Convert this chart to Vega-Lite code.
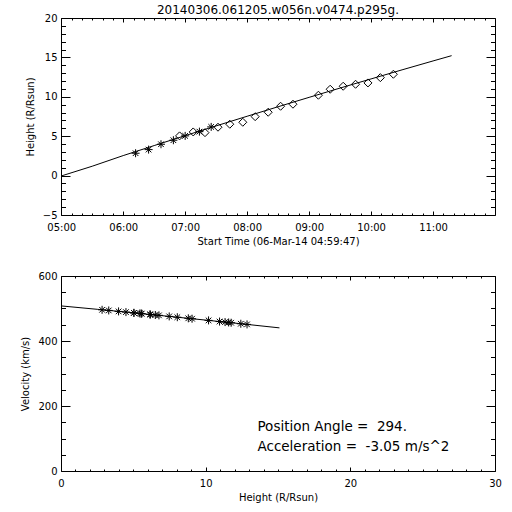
{
  "$schema": "https://vega.github.io/schema/vega-lite/v6.json",
  "background": "white",
  "padding": {"left": 20, "top": 3, "right": 0, "bottom": 0},
  "spacing": 23,
  "config": {
    "font": "DejaVu Sans",
    "view": {"stroke": "black", "strokeWidth": 1},
    "axis": {
      "domain": false,
      "grid": false,
      "ticks": true,
      "tickColor": "black",
      "tickWidth": 1,
      "labelColor": "black",
      "labelFont": "DejaVu Sans",
      "labelFontSize": 10,
      "labelFlush": false,
      "labelOverlap": false,
      "titleColor": "black",
      "titleFont": "DejaVu Sans",
      "titleFontSize": 10,
      "titleFontWeight": "normal"
    }
  },
  "datasets": {
    "hts": [
      {"time_h": 6.20, "height_rsun": 2.84, "marker": "asterisk"},
      {"time_h": 6.41, "height_rsun": 3.30, "marker": "asterisk"},
      {"time_h": 6.61, "height_rsun": 3.98, "marker": "asterisk"},
      {"time_h": 6.81, "height_rsun": 4.49, "marker": "asterisk"},
      {"time_h": 7.00, "height_rsun": 5.04, "marker": "asterisk"},
      {"time_h": 7.23, "height_rsun": 5.58, "marker": "asterisk"},
      {"time_h": 7.42, "height_rsun": 6.18, "marker": "asterisk"},
      {"time_h": 6.91, "height_rsun": 5.04, "marker": "diamond"},
      {"time_h": 7.13, "height_rsun": 5.54, "marker": "diamond"},
      {"time_h": 7.32, "height_rsun": 5.45, "marker": "diamond"},
      {"time_h": 7.53, "height_rsun": 6.14, "marker": "diamond"},
      {"time_h": 7.72, "height_rsun": 6.52, "marker": "diamond"},
      {"time_h": 7.93, "height_rsun": 6.77, "marker": "diamond"},
      {"time_h": 8.13, "height_rsun": 7.48, "marker": "diamond"},
      {"time_h": 8.34, "height_rsun": 8.04, "marker": "diamond"},
      {"time_h": 8.54, "height_rsun": 8.80, "marker": "diamond"},
      {"time_h": 8.74, "height_rsun": 9.06, "marker": "diamond"},
      {"time_h": 9.15, "height_rsun": 10.20, "marker": "diamond"},
      {"time_h": 9.34, "height_rsun": 10.96, "marker": "diamond"},
      {"time_h": 9.55, "height_rsun": 11.34, "marker": "diamond"},
      {"time_h": 9.75, "height_rsun": 11.59, "marker": "diamond"},
      {"time_h": 9.95, "height_rsun": 11.76, "marker": "diamond"},
      {"time_h": 10.15, "height_rsun": 12.43, "marker": "diamond"},
      {"time_h": 10.36, "height_rsun": 12.86, "marker": "diamond"}
    ],
    "ht_fit": [
      {"time_h": 5.0, "height_rsun": -0.05},
      {"time_h": 5.5, "height_rsun": 1.19},
      {"time_h": 6.0, "height_rsun": 2.54},
      {"time_h": 6.5, "height_rsun": 3.81},
      {"time_h": 7.0, "height_rsun": 5.07},
      {"time_h": 7.5, "height_rsun": 6.31},
      {"time_h": 8.0, "height_rsun": 7.53},
      {"time_h": 8.5, "height_rsun": 8.74},
      {"time_h": 9.0, "height_rsun": 9.93},
      {"time_h": 9.5, "height_rsun": 11.11},
      {"time_h": 10.0, "height_rsun": 12.27},
      {"time_h": 10.5, "height_rsun": 13.42},
      {"time_h": 11.0, "height_rsun": 14.55},
      {"time_h": 11.3, "height_rsun": 15.22}
    ],
    "vel": [
      {"height_rsun": 2.84, "velocity_kms": 496.0},
      {"height_rsun": 3.30, "velocity_kms": 494.0},
      {"height_rsun": 3.98, "velocity_kms": 491.1},
      {"height_rsun": 4.49, "velocity_kms": 488.9},
      {"height_rsun": 5.04, "velocity_kms": 486.5},
      {"height_rsun": 5.04, "velocity_kms": 486.5},
      {"height_rsun": 5.45, "velocity_kms": 484.7},
      {"height_rsun": 5.54, "velocity_kms": 484.3},
      {"height_rsun": 5.58, "velocity_kms": 484.1},
      {"height_rsun": 6.14, "velocity_kms": 481.7},
      {"height_rsun": 6.18, "velocity_kms": 481.5},
      {"height_rsun": 6.52, "velocity_kms": 480.0},
      {"height_rsun": 6.77, "velocity_kms": 478.9},
      {"height_rsun": 7.48, "velocity_kms": 475.7},
      {"height_rsun": 8.04, "velocity_kms": 473.2},
      {"height_rsun": 8.80, "velocity_kms": 469.8},
      {"height_rsun": 9.06, "velocity_kms": 468.6},
      {"height_rsun": 10.20, "velocity_kms": 463.4},
      {"height_rsun": 10.96, "velocity_kms": 459.9},
      {"height_rsun": 11.34, "velocity_kms": 458.2},
      {"height_rsun": 11.59, "velocity_kms": 457.0},
      {"height_rsun": 11.76, "velocity_kms": 456.2},
      {"height_rsun": 12.43, "velocity_kms": 453.1},
      {"height_rsun": 12.86, "velocity_kms": 451.1}
    ],
    "vel_fit": [
      {"height_rsun": 0, "velocity_kms": 508.0},
      {"height_rsun": 2.5, "velocity_kms": 497.5},
      {"height_rsun": 5, "velocity_kms": 486.9},
      {"height_rsun": 7.5, "velocity_kms": 475.6},
      {"height_rsun": 10, "velocity_kms": 464.3},
      {"height_rsun": 12.5, "velocity_kms": 452.8},
      {"height_rsun": 15.1, "velocity_kms": 440.4}
    ],
    "notes": [
      {"label": ["Position Angle =\u00a0 294.", "Acceleration =\u00a0 -3.05 m/s^2"]}
    ]
  },
  "vconcat": [
    {
      "width": 434,
      "height": 197,
      "title": {"text": "20140306.061205.w056n.v0474.p295g.", "fontSize": 12, "fontWeight": "normal", "font": "DejaVu Sans", "color": "black", "anchor": "middle", "offset": -4},
      "resolve": {"axis": {"x": "independent", "y": "independent"}},
      "layer": [
        {
          "data": {"name": "ht_fit"},
          "mark": {"type": "line", "color": "black", "strokeWidth": 1},
          "encoding": {
            "x": {"field": "time_h", "type": "quantitative",
              "scale": {"domain": [4.9964, 12.0], "nice": false, "zero": false},
              "axis": {"orient": "bottom", "title": "Start Time (06-Mar-14 04:59:47)",
                "values": [5, 6, 7, 8, 9, 10, 11],
                "labelExpr": "(datum.value < 10 ? '0' : '') + format(datum.value, 'd') + ':00'",
                "tickSize": -4, "labelPadding": 11, "titlePadding": 4}},
            "y": {"field": "height_rsun", "type": "quantitative",
              "scale": {"domain": [-5, 20], "nice": false, "zero": false},
              "axis": {"orient": "left", "title": "Height (R/Rsun)",
                "values": [-5, 0, 5, 10, 15, 20],
                "format": "d",
                "tickSize": -9, "labelPadding": 13, "titlePadding": 7}}
          }
        },
        {
          "data": {"name": "hts"},
          "transform": [{"filter": "datum.marker === 'asterisk'"}],
          "mark": {"type": "point", "filled": false, "color": "black", "strokeWidth": 1, "opacity": 1, "size": 64,
            "shape": "M-1,0L1,0M0,-1L0,1M-0.7,-0.7L0.7,0.7M-0.7,0.7L0.7,-0.7"},
          "encoding": {
            "x": {"field": "time_h", "type": "quantitative",
              "axis": {"orient": "top", "title": null, "labels": false,
                "values": [5, 6, 7, 8, 9, 10, 11], "tickSize": -4}},
            "y": {"field": "height_rsun", "type": "quantitative",
              "axis": {"orient": "right", "title": null, "labels": false,
                "values": [-5, 0, 5, 10, 15, 20], "tickSize": -9}}
          }
        },
        {
          "data": {"name": "hts"},
          "transform": [{"filter": "datum.marker === 'diamond'"}],
          "mark": {"type": "point", "filled": false, "color": "black", "strokeWidth": 1, "opacity": 1, "size": 64, "shape": "diamond"},
          "encoding": {
            "x": {"field": "time_h", "type": "quantitative",
              "axis": {"orient": "bottom", "title": null, "labels": false,
                "values": [5.1667,5.3333,5.5,5.6667,5.8333,6.1667,6.3333,6.5,6.6667,6.8333,7.1667,7.3333,7.5,7.6667,7.8333,8.1667,8.3333,8.5,8.6667,8.8333,9.1667,9.3333,9.5,9.6667,9.8333,10.1667,10.3333,10.5,10.6667,10.8333,11.1667,11.3333,11.5,11.6667,11.8333],
                "tickSize": -2}},
            "y": {"field": "height_rsun", "type": "quantitative",
              "axis": {"orient": "left", "title": null, "labels": false,
                "values": [-4,-3,-2,-1,1,2,3,4,6,7,8,9,11,12,13,14,16,17,18,19],
                "tickSize": -4.5}}
          }
        },
        {
          "data": {"name": "hts"},
          "mark": {"type": "point", "opacity": 0, "size": 1},
          "encoding": {
            "x": {"field": "time_h", "type": "quantitative",
              "axis": {"orient": "top", "title": null, "labels": false,
                "values": [5.1667,5.3333,5.5,5.6667,5.8333,6.1667,6.3333,6.5,6.6667,6.8333,7.1667,7.3333,7.5,7.6667,7.8333,8.1667,8.3333,8.5,8.6667,8.8333,9.1667,9.3333,9.5,9.6667,9.8333,10.1667,10.3333,10.5,10.6667,10.8333,11.1667,11.3333,11.5,11.6667,11.8333],
                "tickSize": -2}},
            "y": {"field": "height_rsun", "type": "quantitative",
              "axis": {"orient": "right", "title": null, "labels": false,
                "values": [-4,-3,-2,-1,1,2,3,4,6,7,8,9,11,12,13,14,16,17,18,19],
                "tickSize": -4.5}}
          }
        }
      ]
    },
    {
      "width": 434,
      "height": 195,
      "resolve": {"axis": {"x": "independent", "y": "independent"}},
      "layer": [
        {
          "data": {"name": "vel_fit"},
          "mark": {"type": "line", "color": "black", "strokeWidth": 1},
          "encoding": {
            "x": {"field": "height_rsun", "type": "quantitative",
              "scale": {"domain": [0, 30], "nice": false},
              "axis": {"orient": "bottom", "title": "Height (R/Rsun)",
                "values": [0, 10, 20, 30], "format": "d",
                "tickSize": -4, "labelPadding": 11, "titlePadding": 4}},
            "y": {"field": "velocity_kms", "type": "quantitative",
              "scale": {"domain": [0, 600], "nice": false},
              "axis": {"orient": "left", "title": "Velocity (km/s)",
                "values": [0, 200, 400, 600], "format": "d",
                "tickSize": -9, "labelPadding": 13, "titlePadding": 7}}
          }
        },
        {
          "data": {"name": "vel"},
          "mark": {"type": "point", "filled": false, "color": "black", "strokeWidth": 1, "opacity": 1, "size": 64,
            "shape": "M-1,0L1,0M0,-1L0,1M-0.7,-0.7L0.7,0.7M-0.7,0.7L0.7,-0.7"},
          "encoding": {
            "x": {"field": "height_rsun", "type": "quantitative",
              "axis": {"orient": "top", "title": null, "labels": false,
                "values": [0, 10, 20, 30], "tickSize": -4}},
            "y": {"field": "velocity_kms", "type": "quantitative",
              "axis": {"orient": "right", "title": null, "labels": false,
                "values": [0, 200, 400, 600], "tickSize": -9}}
          }
        },
        {
          "data": {"name": "vel"},
          "mark": {"type": "point", "opacity": 0, "size": 1},
          "encoding": {
            "x": {"field": "height_rsun", "type": "quantitative",
              "axis": {"orient": "bottom", "title": null, "labels": false,
                "values": [1,2,3,4,5,6,7,8,9,11,12,13,14,15,16,17,18,19,21,22,23,24,25,26,27,28,29],
                "tickSize": -2}},
            "y": {"field": "velocity_kms", "type": "quantitative",
              "axis": {"orient": "left", "title": null, "labels": false,
                "values": [50,100,150,250,300,350,450,500,550],
                "tickSize": -4.5}}
          }
        },
        {
          "data": {"name": "notes"},
          "mark": {"type": "text", "align": "left", "baseline": "alphabetic", "fontSize": 13.5, "font": "DejaVu Sans", "color": "black", "lineHeight": 20},
          "encoding": {
            "x": {"datum": 13.58, "type": "quantitative",
              "axis": {"orient": "top", "title": null, "labels": false,
                "values": [1,2,3,4,5,6,7,8,9,11,12,13,14,15,16,17,18,19,21,22,23,24,25,26,27,28,29],
                "tickSize": -2}},
            "y": {"datum": 124, "type": "quantitative",
              "axis": {"orient": "right", "title": null, "labels": false,
                "values": [50,100,150,250,300,350,450,500,550],
                "tickSize": -4.5}},
            "text": {"field": "label"}
          }
        }
      ]
    }
  ]
}
